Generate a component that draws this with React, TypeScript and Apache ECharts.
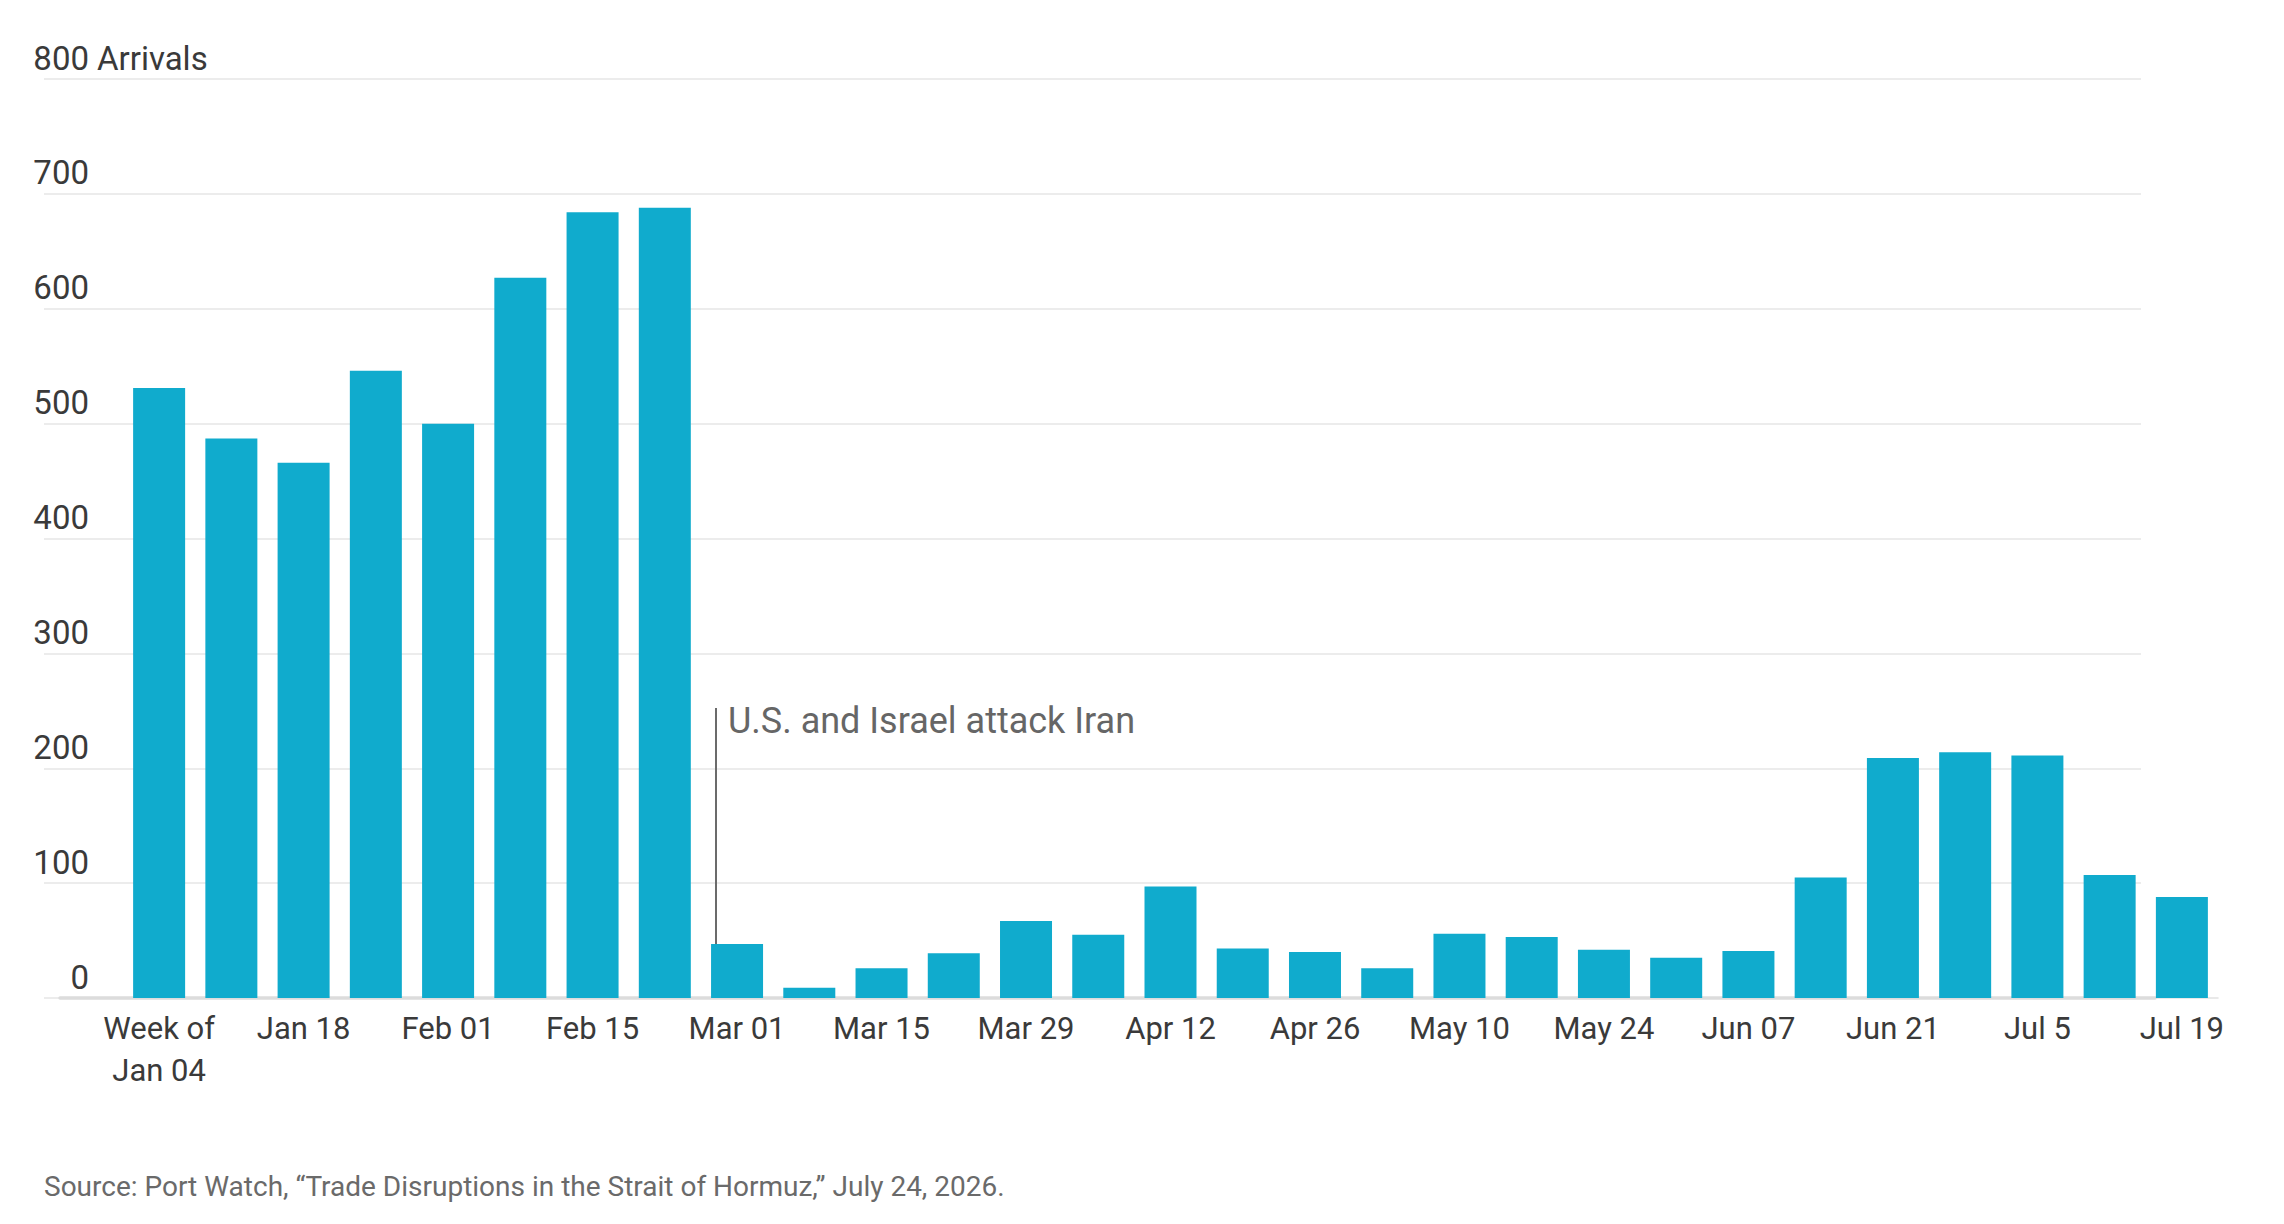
import React, { useEffect, useRef } from "react";
import * as echarts from "echarts";

const weeks = [
  "Week of\nJan 04", "Jan 11", "Jan 18", "Jan 25", "Feb 01", "Feb 08", "Feb 15", "Feb 22",
  "Mar 01", "Mar 08", "Mar 15", "Mar 22", "Mar 29", "Apr 05", "Apr 12", "Apr 19", "Apr 26",
  "May 03", "May 10", "May 17", "May 24", "May 31", "Jun 07", "Jun 14", "Jun 21", "Jun 28",
  "Jul 5", "Jul 12", "Jul 19",
];

const arrivals = [
  531, 487, 466, 546, 500, 627, 684, 688,
  47, 9, 26, 39, 67, 55, 97, 43, 40,
  26, 56, 53, 42, 35, 41, 105, 209, 214,
  211, 107, 88,
];

const yTicks = [0, 100, 200, 300, 400, 500, 600, 700, 800];
const yUnit = "Arrivals";
const annotationText = "U.S. and Israel attack Iran";
const sourceText = "Source: Port Watch, \u201cTrade Disruptions in the Strait of Hormuz,\u201d July 24, 2026.";

const FONT = "Roboto, 'Noto Sans', sans-serif";

export default function App() {
  const ref = useRef<HTMLDivElement>(null);

  useEffect(() => {
    document.body.style.margin = "0";
    const chart = echarts.init(ref.current!, undefined, { renderer: "svg" });
    const top = 79;
    const bottom = 1224 - 998;
    const yMin = yTicks[0];
    const yMax = yTicks[yTicks.length - 1];
    const step = yTicks[1] - yTicks[0];

    chart.setOption({
      animation: false,
      backgroundColor: "#ffffff",
      textStyle: { fontFamily: FONT },
      grid: [
        { left: 123, right: 66, top, bottom, containLabel: false },
        { left: 44, right: 143, top, bottom, containLabel: false },
        { left: 60, right: 129, top, bottom, containLabel: false },
      ],
      xAxis: [
        {
          type: "category",
          gridIndex: 0,
          data: weeks,
          axisTick: { show: false },
          axisLine: { show: true, lineStyle: { color: "#e2e2e2", width: 1.5 } },
          axisLabel: {
            interval: 1,
            margin: 9,
            color: "#3a3a3a",
            fontSize: 31,
            lineHeight: 42,
            fontFamily: FONT,
          },
          z: 0,
        },
        {
          type: "value",
          gridIndex: 1,
          min: 0,
          max: 1,
          show: false,
        },
        {
          type: "value",
          gridIndex: 2,
          min: 0,
          max: 1,
          axisLine: { show: true, lineStyle: { color: "#dcdcdc", width: 3.5 } },
          axisTick: { show: false },
          axisLabel: { show: false },
          splitLine: { show: false },
          z: 1,
        },
      ],
      yAxis: [
        {
          type: "value",
          gridIndex: 0,
          min: yMin,
          max: yMax,
          interval: step,
          axisLine: { show: false },
          axisTick: { show: false },
          splitLine: { show: false },
          axisLabel: {
            margin: 34,
            color: "#3a3a3a",
            fontSize: 33,
            fontFamily: FONT,
            verticalAlign: "bottom",
            lineHeight: 42,
          },
        },
        {
          type: "value",
          gridIndex: 1,
          min: yMin,
          max: yMax,
          interval: step,
          axisLine: { show: false },
          axisTick: { show: false },
          axisLabel: { show: false },
          splitLine: { show: true, lineStyle: { color: "#e6e6e6", width: 1.5 } },
        },
        {
          type: "value",
          gridIndex: 2,
          min: yMin,
          max: yMax,
          show: false,
        },
      ],
      series: [
        {
          type: "bar",
          xAxisIndex: 0,
          yAxisIndex: 0,
          data: arrivals,
          barWidth: 52,
          itemStyle: { color: "#10abcd" },
          z: 3,
        },
      ],
      graphic: [
        {
          type: "text",
          x: 97,
          y: 58,
          style: {
            text: yUnit,
            fontSize: 33,
            fontFamily: FONT,
            fill: "#3a3a3a",
            verticalAlign: "middle",
            align: "left",
          },
          z: 10,
        },
        {
          type: "line",
          shape: { x1: 716, y1: 708, x2: 716, y2: 944 },
          style: { stroke: "#6b6b6b", lineWidth: 2 },
          z: 10,
        },
        {
          type: "text",
          x: 728,
          y: 721,
          style: {
            text: annotationText,
            fontSize: 36,
            fontFamily: FONT,
            fill: "#666666",
            verticalAlign: "middle",
            align: "left",
          },
          z: 10,
        },
        {
          type: "text",
          x: 44,
          y: 1186,
          style: {
            text: sourceText,
            fontSize: 28,
            fontFamily: FONT,
            fill: "#6a6a6a",
            verticalAlign: "middle",
            align: "left",
          },
          z: 10,
        },
      ],
    });

    return () => chart.dispose();
  }, []);

  return <div ref={ref} style={{ width: 2284, height: 1224 }} />;
}
